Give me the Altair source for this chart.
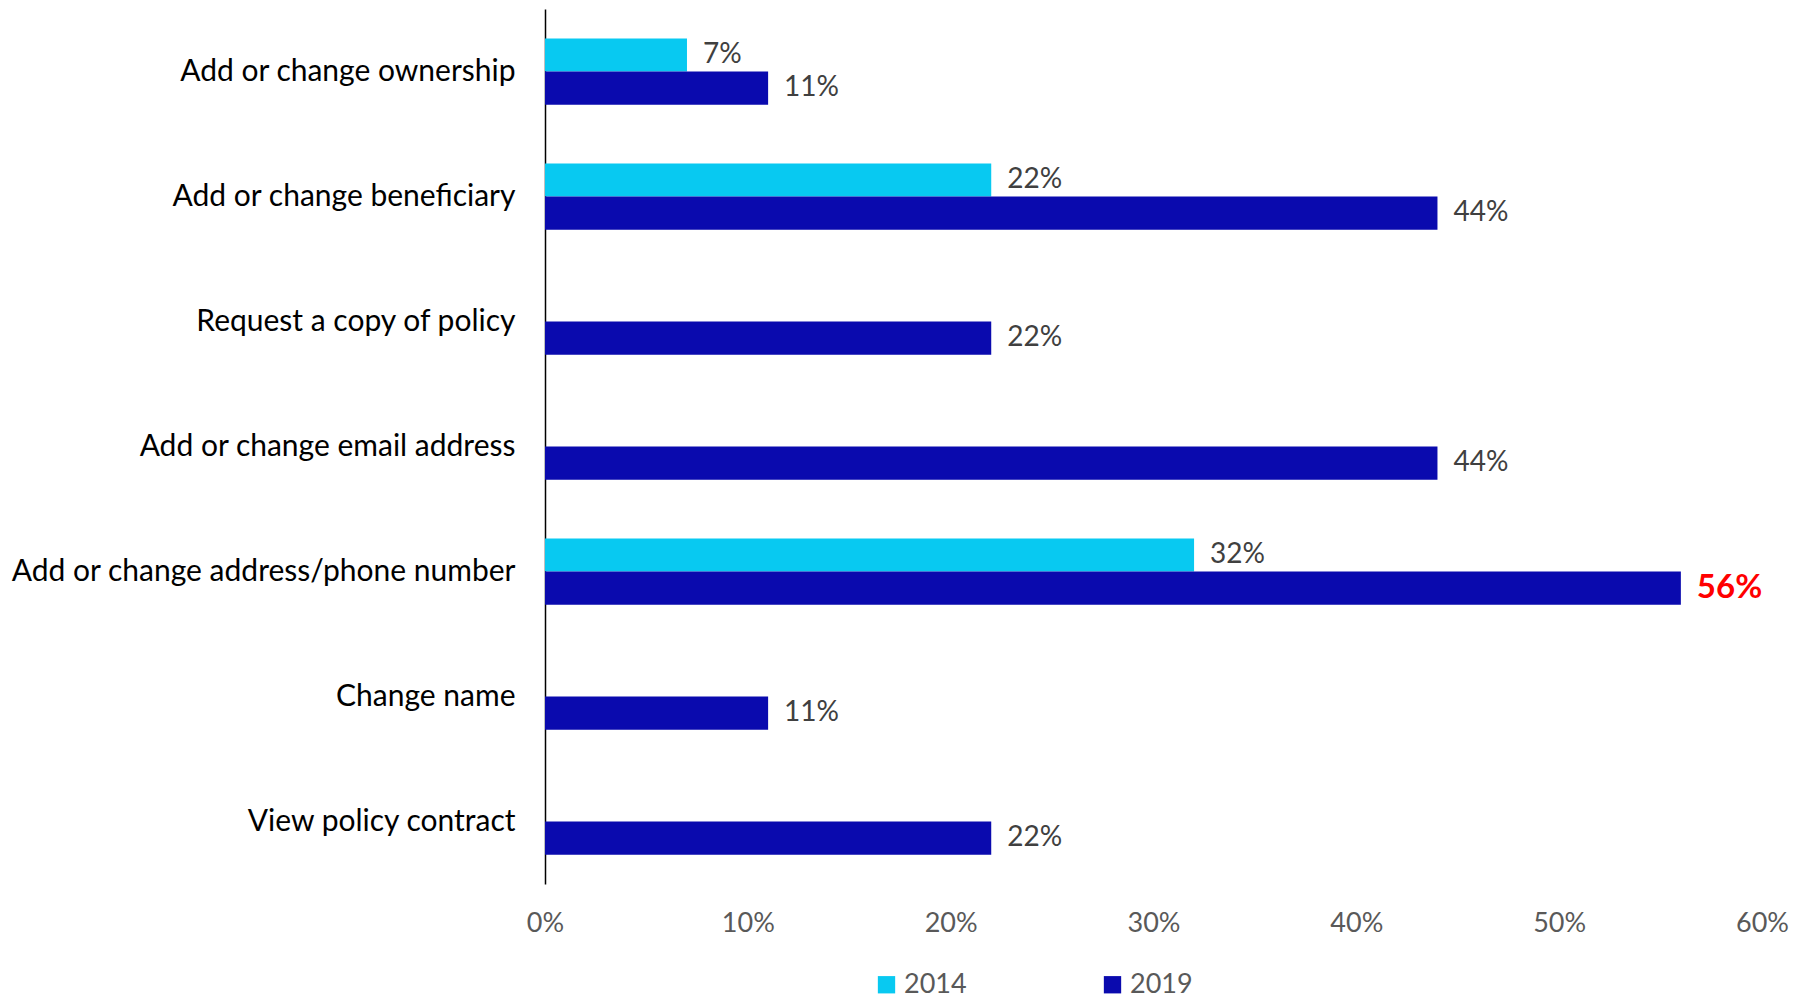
import altair as alt
import pandas as pd

categories = [
    "Add or change ownership",
    "Add or change beneficiary",
    "Request a copy of policy",
    "Add or change email address",
    "Add or change address/phone number",
    "Change name",
    "View policy contract",
]
values_2014 = [7, 22, None, None, 32, None, None]
values_2019 = [11, 44, 22, 44, 56, 11, 22]
years = ["2014", "2019"]
colors = ["#08C9F1", "#0A0AAE"]

rows = []
for c, v1, v2 in zip(categories, values_2014, values_2019):
    rows.append({"cat": c, "year": "2014", "val": v1})
    rows.append({"cat": c, "year": "2019", "val": v2})
df = pd.DataFrame(rows)
df = df.dropna(subset=["val"])
df["label"] = df["val"].map(lambda v: f"{int(v)}%")
max_val = max(values_2019)

FONT = "Lato"

y_enc = alt.Y(
    "cat:N",
    sort=categories,
    title=None,
    scale=alt.Scale(paddingInner=0.47, paddingOuter=0.235),
    axis=alt.Axis(
        domain=True, domainColor="#000000", domainWidth=1.5,
        ticks=False, labelFontSize=30, labelColor="#000000",
        labelFont=FONT, labelPadding=30, labelLimit=700,
    ),
)
yoff = alt.YOffset("year:N", sort=years, scale=alt.Scale(paddingInner=0, paddingOuter=0))

base = alt.Chart(df).encode(y=y_enc, yOffset=yoff)

bars = base.mark_bar().encode(
    x=alt.X(
        "val:Q",
        scale=alt.Scale(domain=[0, 60], nice=False),
        title=None,
        axis=alt.Axis(
            values=[0, 10, 20, 30, 40, 50, 60],
            labelExpr="datum.value + '%'",
            grid=False, domain=False, ticks=False, labelFlush=False,
            labelFontSize=27, labelColor="#595959", labelFont=FONT,
            labelPadding=26,
        ),
    ),
    color=alt.Color(
        "year:N",
        sort=years,
        scale=alt.Scale(domain=years, range=colors),
        legend=alt.Legend(
            title=None, orient="none", direction="horizontal",
            legendX=328, legendY=962, symbolType="square", symbolSize=300,
            labelFontSize=27, labelColor="#595959", labelFont=FONT,
            columnPadding=132, symbolStrokeWidth=0,
        ),
    ),
)

labels = base.transform_filter(f"datum.val != {max_val}").mark_text(
    align="left", baseline="middle", dx=16, fontSize=28, color="#404040", font=FONT
).encode(x="val:Q", text="label:N")

highlight = base.transform_filter(f"datum.val == {max_val}").mark_text(
    align="left", baseline="middle", dx=16, fontSize=33, color="#FF0000",
    fontWeight="bold", font=FONT
).encode(x="val:Q", text="label:N")

chart = (
    alt.layer(bars, labels, highlight)
    .properties(
        width=1217, height=875,
        background="#FFFFFF",
        autosize=alt.AutoSizeParams(type="none"),
        padding={"left": 545, "top": 9, "right": 47, "bottom": 116},
    )
    .configure_view(stroke=None, strokeWidth=0)
)

chart.save("out.html", embed_options={"renderer": "svg", "actions": False})
